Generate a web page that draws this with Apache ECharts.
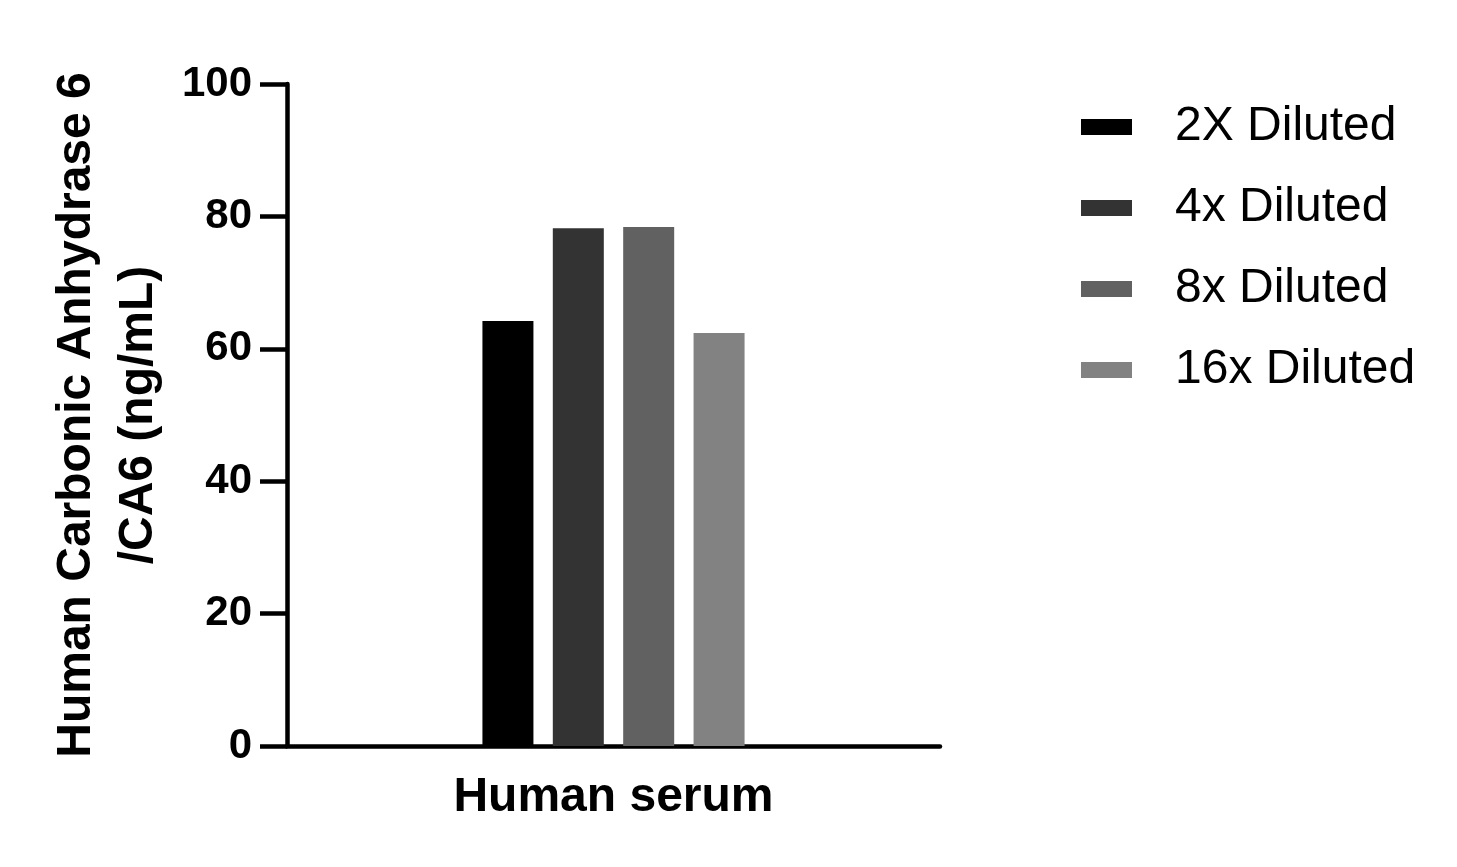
<!DOCTYPE html>
<html>
<head>
<meta charset="utf-8">
<script src="https://cdn.jsdelivr.net/npm/echarts@6/dist/echarts.min.js"></script>
<style>
    html, body { margin: 0; padding: 0; background: #ffffff; }
    #chart { width: 1457px; height: 867px; }
</style>
</head>
<body>
<div id="chart"></div>
<script>
const categories = ["Human serum"];
const seriesNames = ["2X Diluted", "4x Diluted", "8x Diluted", "16x Diluted"];
const seriesValues = [[64.2], [78.2], [78.4], [62.4]];
const seriesColors = ["#000000", "#333333", "#616161", "#828282"];

const font = "Arial, 'Liberation Sans', sans-serif";

const chart = echarts.init(document.getElementById("chart"));

const series = seriesNames.map((name, i) => ({
    name: name,
    type: "bar",
    data: seriesValues[i],
    barWidth: 51,
    barGap: "38%",
    itemStyle: { color: seriesColors[i] }
}));

chart.setOption({
    animation: false,
    textStyle: { fontFamily: font },
    grid: { left: 287, right: 517, top: 84, bottom: 121, containLabel: false, outerBoundsMode: "none" },
    legend: {
        orient: "vertical",
        left: 1076,
        top: 98,
        itemWidth: 51,
        itemHeight: 16,
        itemGap: 33,
        icon: "rect",
        textStyle: { fontFamily: font, fontSize: 48, color: "#000000", padding: [0, 0, 0, 38] },
        data: seriesNames
    },
    xAxis: {
        type: "category",
        data: categories,
        axisLine: { lineStyle: { color: "#000000", width: 4.5 } },
        axisTick: { show: false },
        axisLabel: { fontFamily: font, fontSize: 48, fontWeight: "bold", color: "#000000", margin: 28 }
    },
    yAxis: {
        type: "value",
        min: 0,
        max: 100,
        interval: 20,
        name: "Human Carbonic Anhydrase 6\n/CA6 (ng/mL)",
        nameLocation: "middle",
        nameGap: 117,
        nameRotate: 90,
        nameTextStyle: { fontFamily: font, fontSize: 48, fontWeight: "bold", color: "#000000", lineHeight: 62 },
        splitLine: { show: false },
        axisLine: { show: true, lineStyle: { color: "#000000", width: 4.5 } },
        axisTick: { show: true, length: 27, lineStyle: { color: "#000000", width: 4.5 } },
        axisLabel: { fontFamily: font, fontSize: 42, fontWeight: "bold", color: "#000000", margin: 35 }
    },
    series: series
});
</script>
</body>
</html>
